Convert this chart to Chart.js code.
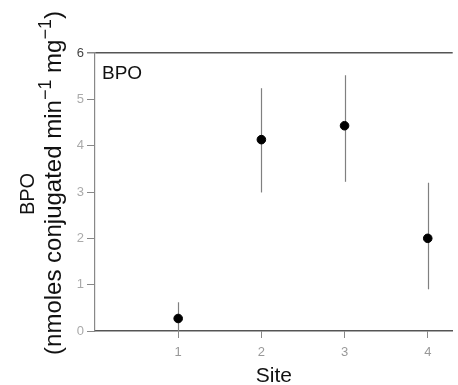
<!DOCTYPE html>
<html>
<head>
<meta charset="utf-8">
<script src="https://cdn.jsdelivr.net/npm/chart.js@4/dist/chart.umd.min.js"></script>
<style>
html,body{margin:0;padding:0;background:#fff;}
#wrap{width:458px;height:385px;position:relative;}
</style>
</head>
<body>
<div id="wrap"><canvas id="c" width="458" height="385"></canvas></div>
<script>
const sites = [1, 2, 3, 4];
const means = [0.27, 4.13, 4.43, 2.0];
const lower = [0.0, 2.99, 3.22, 0.9];
const upper = [0.62, 5.24, 5.52, 3.2];
const yTicks = [0, 1, 2, 3, 4, 5, 6];
const panelLabel = 'BPO';
const yTitleLine1 = 'BPO';
const yTitleLine2 = [
  {t: '(nmoles conjugated min', sup: false},
  {t: '\u22121', sup: true},
  {t: ' mg', sup: false},
  {t: '\u22121', sup: true},
  {t: ')', sup: false}
];
const xTitle = 'Site';
const FONT = '"Liberation Sans", Arial, sans-serif';

const decorations = {
  id: 'decorations',
  beforeDatasetsDraw(chart) {
    const {ctx, scales: {x, y}} = chart;
    ctx.save();
    ctx.lineWidth = 1.2;
    sites.forEach((s, i) => {
      const px = Math.round(x.getPixelForValue(s)) + 0.5;
      ctx.strokeStyle = '#808080';
      ctx.beginPath();
      ctx.moveTo(px, y.getPixelForValue(lower[i]));
      ctx.lineTo(px, y.getPixelForValue(upper[i]));
      ctx.stroke();
    });
    ctx.restore();
  },
  afterDraw(chart) {
    const {ctx, chartArea} = chart;
    ctx.save();
    ctx.fillStyle = '#111';
    ctx.font = '19px ' + FONT;
    ctx.textAlign = 'left';
    ctx.textBaseline = 'middle';
    ctx.fillText(panelLabel, chartArea.left + 7, chartArea.top + 21);

    // y-axis title, two rotated lines
    const midY = (chartArea.top + chartArea.bottom) / 2;
    ctx.save();
    ctx.translate(28, midY + 2);
    ctx.rotate(-Math.PI / 2);
    ctx.textAlign = 'center';
    ctx.font = '20px ' + FONT;
    ctx.fillText(yTitleLine1, 0, 0);
    ctx.restore();

    ctx.save();
    ctx.translate(54, midY - 9);
    ctx.rotate(-Math.PI / 2);
    ctx.textAlign = 'left';
    const mainFont = '24px ' + FONT;
    const supFont = '18px ' + FONT;
    let total = 0;
    yTitleLine2.forEach(seg => {
      ctx.font = seg.sup ? supFont : mainFont;
      total += ctx.measureText(seg.t).width;
    });
    let cx = -total / 2;
    yTitleLine2.forEach(seg => {
      ctx.font = seg.sup ? supFont : mainFont;
      ctx.fillText(seg.t, cx, seg.sup ? -8 : 0);
      cx += ctx.measureText(seg.t).width;
    });
    ctx.restore();
    ctx.restore();
  }
};

new Chart(document.getElementById('c'), {
  type: 'scatter',
  data: {
    datasets: [{
      data: sites.map((s, i) => ({x: s, y: means[i]})),
      backgroundColor: '#000',
      borderColor: '#000',
      borderWidth: 1,
      pointRadius: 4.3,
      pointHoverRadius: 4.3
    }]
  },
  options: {
    responsive: false,
    animation: false,
    layout: {padding: {top: 53, right: 5, left: 0, bottom: 0}},
    plugins: {legend: {display: false}, tooltip: {enabled: false}},
    scales: {
      x: {
        type: 'linear',
        min: 0,
        max: 4.3,
        afterBuildTicks(scale) { scale.ticks = sites.map(v => ({value: v})); },
        afterFit(scale) { scale.height = 54; },
        grid: {display: true, drawOnChartArea: false, drawTicks: true, tickLength: 7, tickColor: '#888', lineWidth: 1},
        border: {display: true, color: '#555', width: 1.5},
        ticks: {color: '#999', padding: 7, font: {size: 13, family: FONT}, maxRotation: 0},
        title: {display: true, text: xTitle, color: '#111', font: {size: 21, family: FONT, lineHeight: '18px'}, padding: {top: 0, bottom: 0}}
      },
      y: {
        type: 'linear',
        min: 0,
        max: 6,
        afterBuildTicks(scale) { scale.ticks = yTicks.map(v => ({value: v})); },
        afterFit(scale) { scale.width = 95; },
        grid: {
          display: true,
          drawOnChartArea: true,
          drawTicks: true,
          tickLength: 8,
          color: (c) => (c.tick && c.tick.value === 6) ? '#555' : 'rgba(0,0,0,0)',
          tickColor: '#888',
          lineWidth: (c) => (c.tick && c.tick.value === 6) ? 1.5 : 1
        },
        border: {display: true, color: '#888', width: 1.2},
        ticks: {
          color: (c) => (c.tick && c.tick.value === 6) ? '#444' : '#aaa',
          padding: 3,
          font: {size: 13, family: FONT}
        },
        title: {display: false}
      }
    }
  },
  plugins: [decorations]
});
</script>
</body>
</html>
